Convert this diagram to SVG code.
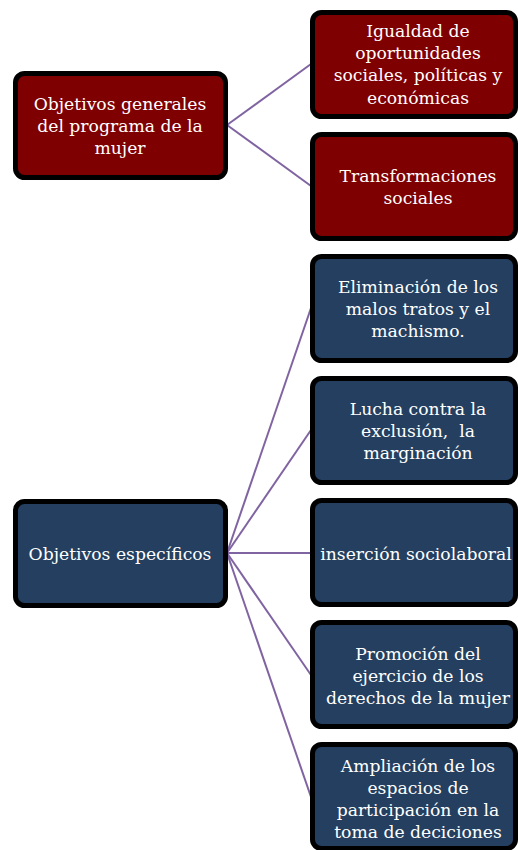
<svg xmlns="http://www.w3.org/2000/svg" width="518" height="850" viewBox="0 0 518 850">
<style>
.red{fill:#7f0000;stroke:#000;stroke-width:5}
.blue{fill:#243f60;stroke:#000;stroke-width:5}
text{font-family:"DejaVu Serif","Liberation Serif",serif;font-size:17.2px;fill:#fff;text-anchor:middle}
.c{stroke:#8064a2;stroke-width:2;fill:none}
</style>
<rect width="518" height="850" fill="#fff"/>
<g id="connectors">
<line class="c" x1="227" y1="125" x2="311" y2="64"/>
<line class="c" x1="227" y1="125" x2="311" y2="186"/>
<line class="c" x1="227" y1="553" x2="311" y2="308"/>
<line class="c" x1="227" y1="553" x2="311" y2="430"/>
<line class="c" x1="227" y1="553" x2="311" y2="553"/>
<line class="c" x1="227" y1="553" x2="311" y2="675"/>
<line class="c" x1="227" y1="553" x2="311" y2="797"/>
</g>
<g id="n-general">
<rect class="red" x="15.5" y="73.5" width="210" height="104" rx="9"/>
<text x="120" y="110">Objetivos generales</text>
<text x="120" y="132">del programa de la</text>
<text x="120" y="154">mujer</text>
</g>
<g id="n-igualdad">
<rect class="red" x="312.5" y="12.5" width="203" height="104" rx="9"/>
<text x="418" y="37">Igualdad de</text>
<text x="418" y="59">oportunidades</text>
<text x="418" y="81">sociales, políticas y</text>
<text x="418" y="104">económicas</text>
</g>
<g id="n-transf">
<rect class="red" x="312.5" y="134.5" width="203" height="104" rx="9"/>
<text x="418" y="182">Transformaciones</text>
<text x="418" y="204">sociales</text>
</g>
<g id="n-especificos">
<rect class="blue" x="15.5" y="501.5" width="210" height="104" rx="9"/>
<text x="120" y="560">Objetivos específicos</text>
</g>
<g id="n-eliminacion">
<rect class="blue" x="312.5" y="256.5" width="203" height="104" rx="9"/>
<text x="418" y="293">Eliminación de los</text>
<text x="418" y="315">malos tratos y el</text>
<text x="418" y="337">machismo.</text>
</g>
<g id="n-lucha">
<rect class="blue" x="312.5" y="378.5" width="203" height="104" rx="9"/>
<text x="418" y="415">Lucha contra la</text>
<text x="418" y="437" style="white-space:pre">exclusión,  la</text>
<text x="418" y="459">marginación</text>
</g>
<g id="n-insercion">
<rect class="blue" x="312.5" y="500.5" width="203" height="104" rx="9"/>
<text x="416" y="560">inserción sociolaboral</text>
</g>
<g id="n-promocion">
<rect class="blue" x="312.5" y="622.5" width="203" height="104" rx="9"/>
<text x="418" y="660">Promoción del</text>
<text x="418" y="682">ejercicio de los</text>
<text x="418" y="704">derechos de la mujer</text>
</g>
<g id="n-ampliacion">
<rect class="blue" x="312.5" y="744.5" width="203" height="104" rx="9"/>
<text x="418" y="772">Ampliación de los</text>
<text x="418" y="794">espacios de</text>
<text x="418" y="816">participación en la</text>
<text x="418" y="838">toma de deciciones</text>
</g>
</svg>
